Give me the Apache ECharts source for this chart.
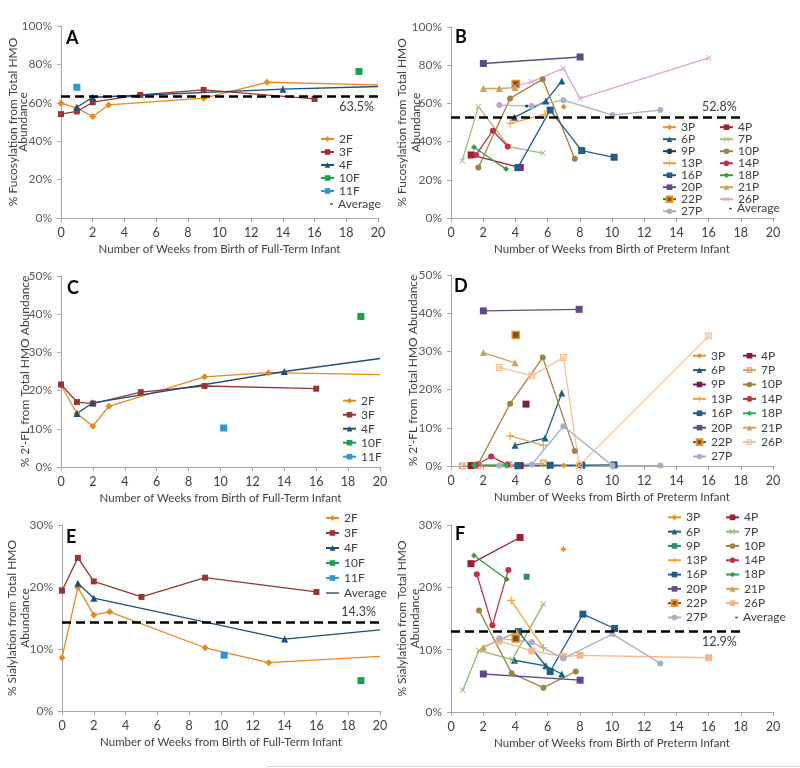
<!DOCTYPE html>
<html>
<head>
<meta charset="utf-8">
<script src="https://cdn.jsdelivr.net/npm/echarts@6/dist/echarts.min.js"></script>
<style>
  html, body { margin: 0; padding: 0; background: #fff; }
  #chart { width: 800px; height: 768px; }
</style>
</head>
<body>
<div id="chart"></div>
<script>
/**
 * DATA  ([week, percent] pairs)
 */
// A - % fucosylation, full-term
var A_2F = [[0, 59.8], [1, 57.2], [2, 52.9], [3, 58.9], [9, 62.4], [13, 70.7], [20, 69.3]];
var A_3F = [[0, 54.1], [1, 55.5], [2, 60.3], [5, 64.1], [9, 66.7], [16, 62.0]];
var A_4F = [[1, 57.7], [2, 62.9], [14, 67.1], [20, 68.5]];
var A_10F = [[18.8, 76.3]];
var A_11F = [[1, 68.1]];
var A_AVG = 63.5;

// B - % fucosylation, preterm
var B_3P = [[7, 58.3]];
var B_4P = [[1.25, 33.0], [4.3, 26.4]];
var B_6P = [[3.94, 52.7], [5.89, 61.2], [6.88, 71.7]];
var B_7P = [[0.7, 30.0], [1.7, 58.3], [3.6, 37.3], [5.7, 34.0]];
var B_9P = [[4.7, 58.6]];
var B_10P = [[1.7, 26.4], [3.67, 62.6], [5.7, 72.7], [7.69, 31.0]];
var B_13P = [[3.67, 49.6], [5.84, 54.3]];
var B_14P = [[1.55, 33.0], [2.6, 45.7], [3.52, 37.4]];
var B_16P = [[4.15, 26.4], [6.16, 56.5], [8.12, 35.3], [10.13, 31.8]];
var B_18P = [[1.43, 37.0], [3.42, 25.6]];
var B_20P = [[2.01, 80.9], [8.02, 84.3]];
var B_21P = [[2.01, 67.8], [3, 67.8], [3.98, 68.3]];
var B_22P = [[4.02, 70.1]];
var B_26P = [[3.98, 69.0], [5, 71.3], [6.98, 78.3], [8.02, 62.6], [16, 83.8]];
var B_27P = [[3, 59.1], [5, 58.6], [6.98, 61.7], [10.03, 53.9], [13, 56.5]];
var B_AVG = 52.8;

// C - % 2'-FL, full-term
var C_2F = [[0, 21.4], [1, 14.0], [2, 10.7], [3, 15.9], [9, 23.6], [13, 24.7], [20, 24.2]];
var C_3F = [[0, 21.6], [1, 17.0], [2, 16.6], [5, 19.6], [9, 21.2], [16, 20.5]];
var C_4F = [[1, 14.0], [2, 16.8], [14, 25.0], [20, 28.4]];
var C_10F = [[18.8, 39.4]];
var C_11F = [[10.2, 10.2]];

// D - % 2'-FL, preterm
var D_3P = [[7, 0.1]];
var D_4P = [[1.25, 0.1], [4.3, 0.1]];
var D_6P = [[3.98, 5.4], [5.84, 7.3], [6.88, 19.1]];
var D_7P = [[0.7, 0], [1.7, 0.2], [3.6, 0.3], [5.74, 0.7]];
var D_9P = [[4.66, 16.2]];
var D_10P = [[1.7, 0.6], [3.67, 16.3], [5.7, 28.4], [7.69, 3.9]];
var D_13P = [[3.67, 7.9], [5.74, 5.4]];
var D_14P = [[1.55, 0.2], [2.5, 2.5], [3.5, 0.3]];
var D_16P = [[4.15, 0.1], [6.16, 0.2], [8.12, 0.2], [10.13, 0.3]];
var D_18P = [[1.43, 0.2], [3.42, 0.2]];
var D_20P = [[2.01, 40.6], [7.96, 41.0]];
var D_21P = [[2.01, 29.7], [3.98, 27.0]];
var D_22P = [[4.02, 34.3]];
var D_26P = [[3, 25.8], [5.02, 23.6], [6.98, 28.4], [7.96, 0.1], [16, 34.0]];
var D_27P = [[3, 0.1], [5.02, 0.4], [6.98, 10.4], [10.03, 0.1], [13, 0.1]];

// E - % sialylation, full-term
var E_2F = [[0, 8.6], [1, 19.9], [2, 15.5], [3, 16.0], [9, 10.2], [13, 7.8], [20, 8.8]];
var E_3F = [[0, 19.4], [1, 24.7], [2, 20.9], [5, 18.4], [9, 21.5], [16, 19.2]];
var E_4F = [[1, 20.6], [2, 18.2], [14, 11.6], [20, 13.1]];
var E_10F = [[18.8, 4.9]];
var E_11F = [[10.2, 9.0]];
var E_AVG = 14.3;

// F - % sialylation, preterm
var F_3P = [[6.98, 26.1]];
var F_4P = [[1.24, 23.8], [4.29, 28.0]];
var F_6P = [[3.94, 8.3], [5.89, 7.4], [6.88, 6.1]];
var F_7P = [[0.73, 3.5], [1.74, 9.9], [3.8, 8.4], [5.74, 17.3]];
var F_9P = [[4.7, 21.7]];
var F_10P = [[1.74, 16.3], [3.77, 6.2], [5.74, 3.9], [7.75, 6.5]];
var F_13P = [[3.73, 17.9], [5.74, 10.3]];
var F_14P = [[1.6, 22.1], [2.57, 13.9], [3.56, 22.8]];
var F_16P = [[4.19, 12.9], [6.16, 6.5], [8.19, 15.7], [10.16, 13.4]];
var F_18P = [[1.43, 25.1], [3.46, 21.3]];
var F_20P = [[2.01, 6.1], [8.02, 5.1]];
var F_21P = [[2.01, 10.4], [4.08, 12.8]];
var F_22P = [[4.02, 11.8]];
var F_26P = [[3, 11.4], [5.02, 9.8], [6.98, 8.9], [8.02, 9.1], [16, 8.7]];
var F_27P = [[3, 11.8], [5.02, 11.2], [6.98, 8.6], [10.03, 12.5], [13, 7.8]];
var F_AVG = 12.9;

var FULL_TERM = ['2F', '3F', '4F', '10F', '11F'];
var PRETERM_L = ['3P', '6P', '9P', '13P', '16P', '20P', '22P', '27P'];
var PRETERM_R = ['4P', '7P', '10P', '14P', '18P', '21P', '26P'];

/**
 * STYLES
 */
var FONT = 'Lato, "Liberation Sans", sans-serif';
var X_PATH = 'path://M0,1L1,0L5,4L9,0L10,1L6,5L10,9L9,10L5,6L1,10L0,9L4,5Z';
var PLUS_PATH = 'path://M4.3,0H5.7V4.3H10V5.7H5.7V10H4.3V5.7H0V4.3H4.3Z';
var BOXX_PATH = 'path://M0,0H10V10H0Z M1.5,1.5V8.5H8.5V1.5Z M1.5,2.5L2.5,1.5L5,4L7.5,1.5L8.5,2.5L6,5L8.5,7.5L7.5,8.5L5,6L2.5,8.5L1.5,7.5L4,5Z';
var BAR_PATH = 'path://M0,0H10V1H0Z';

var ftStyle = {
    '2F': {c: '#E58A1F', s: 'diamond', size: 7},
    '3F': {c: '#953735', s: 'rect', size: 6},
    '4F': {c: '#1F4E79', s: 'triangle', size: 7},
    '10F': {c: '#1CA14B', s: 'rect', size: 7},
    '11F': {c: '#2E96D3', s: 'rect', size: 7}
};

function ptStyle(over) {
    var base = {
        '3P': {c: '#E8912A', s: 'diamond', size: 6},
        '4P': {c: '#A21D32', s: 'rect', size: 7},
        '6P': {c: '#1F5E7F', s: 'triangle', size: 7},
        '7P': {c: '#9CC27A', s: X_PATH, size: 6},
        '9P': {c: '#1F3A5F', s: 'circle', size: 3},
        '10P': {c: '#A08245', s: 'circle', size: 6},
        '13P': {c: '#F5A033', s: PLUS_PATH, size: 8},
        '14P': {c: '#C0304A', s: 'circle', size: 6},
        '16P': {c: '#215C8B', s: 'rect', size: 7},
        '18P': {c: '#3E9A48', s: 'diamond', size: 6},
        '20P': {c: '#604A8B', s: 'rect', size: 7},
        '21P': {c: '#CDA35E', s: 'triangle', size: 7},
        '22P': {c: '#7F4F24', s: 'rect', size: 7, border: '#E8912A'},
        '26P': {c: '#D9A9BA', s: X_PATH, size: 6},
        '27P': {c: '#A6B1C6', s: 'circle', size: 6}
    };
    for (var k in over) {
        for (var p in over[k]) base[k][p] = over[k][p];
    }
    return base;
}

var panels = [
    {
        label: 'A', labelPos: [66, 29],
        grid: {left: 61, top: 26, width: 317, height: 192},
        ymax: 100, yint: 20, nameGapY: 33, nameLH: 10,
        yname: '% Fucosylation from Total HMO\nAbundance',
        xname: 'Number of Weeks from Birth of Full-Term Infant',
        data: {'2F': A_2F, '3F': A_3F, '4F': A_4F, '10F': A_10F, '11F': A_11F},
        style: ftStyle,
        avg: A_AVG, avgEnd: 20, avgLabel: 'insideEndBottom',
        legends: [{left: 320, top: 132.5, lh: 13, items: FULL_TERM}],
        avgLegend: {left: 330, top: 197.5, lh: 13}
    },
    {
        label: 'B', labelPos: [455, 28],
        grid: {left: 451, top: 27, width: 322, height: 191},
        ymax: 100, yint: 20, nameGapY: 28, nameLH: 14,
        yname: '% Fucosylation from Total HMO\nAbundance',
        xname: 'Number of Weeks from Birth of Preterm Infant',
        data: {'3P': B_3P, '4P': B_4P, '6P': B_6P, '7P': B_7P, '9P': B_9P, '10P': B_10P, '13P': B_13P,
            '14P': B_14P, '16P': B_16P, '18P': B_18P, '20P': B_20P, '21P': B_21P, '22P': B_22P,
            '26P': B_26P, '27P': B_27P},
        style: ptStyle({}),
        avg: B_AVG, avgEnd: 18, avgLabel: 'insideEndTop',
        legends: [{left: 662, top: 121.2, lh: 11.6, items: PRETERM_L},
            {left: 719, top: 121.2, lh: 11.6, items: PRETERM_R}],
        avgLegend: {left: 729, top: 202.6, lh: 11.6}
    },
    {
        label: 'C', labelPos: [67, 279],
        grid: {left: 61, top: 276, width: 319, height: 191},
        ymax: 50, yint: 10, nameGapY: 29, nameLH: 13,
        yname: '% 2\'-FL from Total HMO Abundance',
        xname: 'Number of Weeks from Birth of Full-Term Infant',
        data: {'2F': C_2F, '3F': C_3F, '4F': C_4F, '10F': C_10F, '11F': C_11F},
        style: ftStyle,
        legends: [{left: 342, top: 393.7, lh: 14, items: FULL_TERM}]
    },
    {
        label: 'D', labelPos: [454, 277],
        grid: {left: 451, top: 275, width: 322, height: 191},
        ymax: 50, yint: 10, nameGapY: 31, nameLH: 13,
        yname: '% 2\'-FL from Total HMO Abundance',
        xname: 'Number of Weeks from Birth of Preterm Infant',
        data: {'3P': D_3P, '4P': D_4P, '6P': D_6P, '7P': D_7P, '9P': D_9P, '10P': D_10P, '13P': D_13P,
            '14P': D_14P, '16P': D_16P, '18P': D_18P, '20P': D_20P, '21P': D_21P, '22P': D_22P,
            '26P': D_26P, '27P': D_27P},
        style: ptStyle({
            '4P': {c: '#8E1B2D'},
            '7P': {c: '#D2A865', s: BOXX_PATH, size: 7},
            '9P': {c: '#7A1F3D', s: 'rect', size: 7},
            '18P': {c: '#22B24C'},
            '26P': {c: '#F5C096', s: BOXX_PATH, size: 7}
        }),
        legends: [{left: 692, top: 348.5, lh: 14.4, items: PRETERM_L},
            {left: 742, top: 348.5, lh: 14.4, items: PRETERM_R}]
    },
    {
        label: 'E', labelPos: [66, 528],
        grid: {left: 62, top: 525, width: 318, height: 186},
        ymax: 30, yint: 10, nameGapY: 30, nameLH: 13,
        yname: '% Sialylation from Total HMO\nAbundance',
        xname: 'Number of Weeks from Birth of Full-Term Infant',
        data: {'2F': E_2F, '3F': E_3F, '4F': E_4F, '10F': E_10F, '11F': E_11F},
        style: ftStyle,
        avg: E_AVG, avgEnd: 20, avgLabel: 'insideEndTop',
        legends: [{left: 325, top: 510.5, lh: 15, items: FULL_TERM, lineAvg: true}]
    },
    {
        label: 'F', labelPos: [455, 525],
        grid: {left: 451, top: 525, width: 322, height: 187},
        ymax: 30, yint: 10, nameGapY: 29, nameLH: 13,
        yname: '% Sialylation from Total HMO\nAbundance',
        xname: 'Number of Weeks from Birth of Preterm Infant',
        data: {'3P': F_3P, '4P': F_4P, '6P': F_6P, '7P': F_7P, '9P': F_9P, '10P': F_10P, '13P': F_13P,
            '14P': F_14P, '16P': F_16P, '18P': F_18P, '20P': F_20P, '21P': F_21P, '22P': F_22P,
            '26P': F_26P, '27P': F_27P},
        style: ptStyle({
            '4P': {c: '#9C1F33'},
            '7P': {c: '#8DBA6F'},
            '9P': {c: '#2E8B6E', s: 'rect', size: 6},
            '26P': {c: '#F5B68C', s: 'rect', size: 7}
        }),
        avg: F_AVG, avgEnd: 18, avgLabel: 'insideEndBottom',
        legends: [{left: 667, top: 510.2, lh: 14.3, items: PRETERM_L},
            {left: 725, top: 510.2, lh: 14.3, items: PRETERM_R}],
        avgLegend: {left: 735, top: 610.3, lh: 14.3}
    }
];

/**
 * BUILD OPTION
 */
// series names carry an invisible suffix per panel so every legend picks its own panel's style
function tag(name, i) {
    return name + new Array(i + 1).join('\u200b');
}

function stripTag(n) {
    return n.replace(/\u200b/g, '');
}

var grids = [], xAxes = [], yAxes = [], series = [], legends = [], titles = [];

panels.forEach(function (p, i) {
    grids.push(p.grid);
    xAxes.push({
        type: 'value', gridIndex: i, min: 0, max: 20, interval: 2,
        name: p.xname, nameLocation: 'middle', nameGap: 25, nameMoveOverlap: false,
        nameTextStyle: {fontFamily: FONT, fontSize: 11.5, color: '#404040'},
        axisLine: {lineStyle: {color: '#A6A6A6'}},
        axisTick: {length: 4, lineStyle: {color: '#A6A6A6'}},
        axisLabel: {fontFamily: FONT, fontSize: 12.5, color: '#404040', margin: 8},
        splitLine: {show: false}
    });
    yAxes.push({
        type: 'value', gridIndex: i, min: 0, max: p.ymax, interval: p.yint,
        name: p.yname, nameLocation: 'middle', nameRotate: 90, nameGap: p.nameGapY,
        nameMoveOverlap: false,
        nameTextStyle: {fontFamily: FONT, fontSize: 12, color: '#404040', lineHeight: p.nameLH},
        axisLine: {show: true, lineStyle: {color: '#A6A6A6'}},
        axisTick: {show: true, length: 4, lineStyle: {color: '#A6A6A6'}},
        axisLabel: {fontFamily: FONT, fontSize: 12, color: '#595959', margin: 9, formatter: '{value}%'},
        splitLine: {show: false}
    });
    titles.push({
        text: p.label, left: p.labelPos[0], top: p.labelPos[1], padding: 0,
        textStyle: {fontFamily: FONT, fontSize: 18, fontWeight: 'bold', color: '#000'}
    });

    Object.keys(p.data).forEach(function (key) {
        var st = p.style[key];
        series.push({
            name: tag(key, i), type: 'line', xAxisIndex: i, yAxisIndex: i,
            data: p.data[key].map(function (pt) {
                return pt[0] >= 20 ? {value: pt, symbol: 'none'} : pt;
            }),
            symbol: st.s, symbolSize: st.size,
            color: st.c,
            lineStyle: {color: st.c, width: 1.3},
            itemStyle: {color: st.c, borderColor: st.border || st.c, borderWidth: st.border ? 1.5 : 0},
            z: 3
        });
    });

    if (p.avg !== undefined) {
        series.push({
            name: tag('Average', i), type: 'line', xAxisIndex: i, yAxisIndex: i,
            data: [], symbol: 'none',
            color: p.label === 'E' ? '#243F60' : '#595959',
            lineStyle: {width: 1.5},
            markLine: {
                silent: true, symbol: ['none', 'none'], z: 4,
                lineStyle: {color: '#000', type: [9, 5], width: 2.5},
                label: {
                    position: p.avgLabel, formatter: p.avg.toFixed(1) + '%', distance: 4,
                    fontFamily: FONT, fontSize: 12.5, color: '#404040'
                },
                data: [[{coord: [0, p.avg]}, {coord: [p.avgEnd, p.avg]}]]
            }
        });
    }

    p.legends.forEach(function (lg) {
        var items = lg.items.map(function (n) { return tag(n, i); });
        if (lg.lineAvg) {
            items.push({name: tag('Average', i), icon: BAR_PATH});
        }
        legends.push({
            orient: 'vertical', left: lg.left, top: lg.top, padding: 0,
            itemWidth: 13, itemHeight: 7, itemGap: 0,
            textStyle: {fontFamily: FONT, fontSize: 12, color: '#404040', lineHeight: lg.lh},
            formatter: stripTag,
            data: items
        });
    });
    if (p.avgLegend) {
        legends.push({
            orient: 'vertical', left: p.avgLegend.left, top: p.avgLegend.top, padding: 0,
            itemWidth: 3, itemHeight: 1.5, itemGap: 0,
            textStyle: {fontFamily: FONT, fontSize: 12, color: '#404040', lineHeight: p.avgLegend.lh},
            formatter: stripTag,
            data: [{name: tag('Average', i), icon: 'rect'}]
        });
    }
});

var chart = echarts.init(document.getElementById('chart'));
chart.setOption({
    animation: false,
    backgroundColor: '#fff',
    title: titles,
    grid: grids,
    xAxis: xAxes,
    yAxis: yAxes,
    legend: legends,
    series: series,
    graphic: [{
        type: 'line', silent: true,
        shape: {x1: 267, y1: 766.5, x2: 800, y2: 766.5},
        style: {stroke: '#D9D9D9', lineWidth: 1}
    }]
});
</script>
</body>
</html>
